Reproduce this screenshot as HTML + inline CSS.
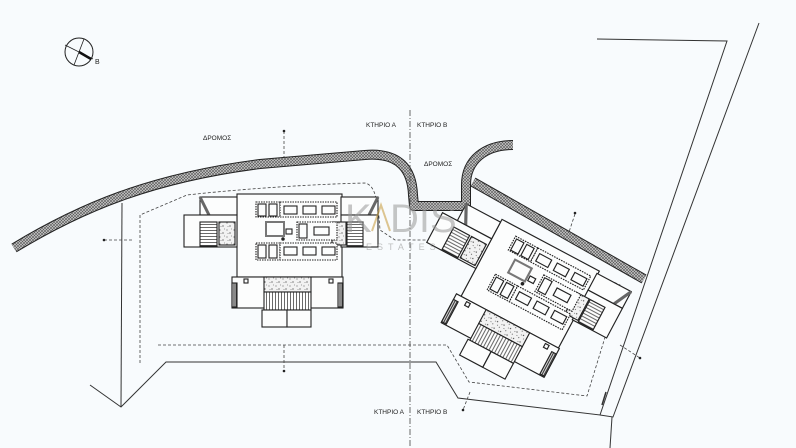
<!DOCTYPE html>
<html><head><meta charset="utf-8"><style>
html,body{margin:0;padding:0;background:#f8fbfd;}
svg{display:block;}
text{font-family:"Liberation Sans",sans-serif;fill:#222;}
</style></head><body>
<svg width="796" height="448" viewBox="0 0 796 448" xmlns="http://www.w3.org/2000/svg">
<defs>
<pattern id="hatch" width="3" height="3" patternUnits="userSpaceOnUse">
<rect width="3" height="3" fill="#c8c8c8"/>
<path d="M0,0L3,3M3,0L0,3" stroke="#555" stroke-width="0.6"/>
</pattern>
<pattern id="speck" width="7" height="7" patternUnits="userSpaceOnUse">
<rect width="7" height="7" fill="#f2f2f2"/>
<circle cx="1" cy="2" r="0.5" fill="#333"/><circle cx="4" cy="5" r="0.6" fill="#333"/>
<circle cx="5.5" cy="1" r="0.4" fill="#333"/><circle cx="2" cy="5.5" r="0.4" fill="#333"/>
</pattern>
<pattern id="hstripe" width="4" height="3" patternUnits="userSpaceOnUse">
<rect width="4" height="3" fill="#fff"/><path d="M0,1.5H4" stroke="#444" stroke-width="0.8"/>
</pattern>
<pattern id="vstripe" width="3" height="4" patternUnits="userSpaceOnUse">
<rect width="3" height="4" fill="#fff"/><path d="M1.5,0V4" stroke="#444" stroke-width="0.8"/>
</pattern>
<pattern id="vdense" width="2" height="4" patternUnits="userSpaceOnUse">
<rect width="2" height="4" fill="#ddd"/><path d="M1,0V4" stroke="#222" stroke-width="0.9"/>
</pattern>
<g id="bldg" stroke="#222" stroke-width="1.1" fill="#fcfdfd">
<rect x="-52" y="-41" width="105" height="83"/>
<rect x="-89" y="-38" width="37" height="18"/>
<path d="M-89,-38 L-80,-20" stroke-width="3" stroke="#666"/>
<rect x="52" y="-38" width="37" height="18"/>
<path d="M89,-38 L80,-20" stroke-width="3" stroke="#666"/>
<rect x="-105" y="-20" width="53" height="32"/>
<rect x="-89" y="-13" width="17" height="24" fill="url(#hstripe)"/>
<rect x="-70" y="-13" width="16" height="23" fill="url(#speck)"/>
<rect x="52" y="-20" width="37" height="32"/>
<rect x="43" y="-13" width="14" height="23" fill="url(#speck)"/>
<rect x="58" y="-13" width="16" height="24" fill="url(#hstripe)"/>
<rect x="-57" y="42" width="111" height="31"/>
<rect x="-25" y="42" width="47" height="15" fill="url(#speck)"/>
<rect x="-25" y="57" width="47" height="18" fill="url(#vstripe)"/>
<rect x="-27" y="75" width="25" height="17"/><rect x="-2" y="75" width="24" height="17"/>
<rect x="-57" y="48" width="5" height="24" fill="url(#vdense)"/>
<rect x="49" y="48" width="5" height="24" fill="url(#vdense)"/>
<rect x="-45" y="44" width="4" height="4"/><rect x="40" y="44" width="4" height="4"/>
<g stroke-dasharray="1.5,1">
<rect x="-33" y="-33" width="24" height="15"/><rect x="-9" y="-33" width="57" height="15"/>
<rect x="-33" y="8" width="24" height="17"/><rect x="-9" y="8" width="57" height="17"/>
<rect x="8" y="-13" width="40" height="18"/>
</g>
<rect x="-31" y="-31" width="8" height="12"/><rect x="-20" y="-31" width="8" height="12"/>
<rect x="-5" y="-29" width="13" height="8"/><rect x="14" y="-29" width="13" height="8"/><rect x="33" y="-29" width="13" height="8"/>
<rect x="-31" y="10" width="8" height="13"/><rect x="-20" y="10" width="8" height="13"/>
<rect x="-5" y="12" width="13" height="8"/><rect x="14" y="12" width="13" height="8"/><rect x="33" y="12" width="13" height="8"/>
<rect x="10" y="-11" width="8" height="14"/><rect x="25" y="-8" width="15" height="8"/>
<rect x="-23" y="-13" width="18" height="14" stroke="#777" stroke-width="2"/>
<rect x="-3" y="-6" width="6" height="5"/>
<circle cx="-6" cy="4" r="1.2" fill="#222"/>
</g>
</defs>

<circle cx="79" cy="52" r="14" fill="none" stroke="#222" stroke-width="1"/>
<path d="M65,45 L93,59 M74,65 L84,39" stroke="#222" stroke-width="0.8"/>
<path d="M79,52 L91,59" stroke="#111" stroke-width="2.5"/>
<text x="95" y="64" font-size="7">B</text>

<g fill="none" stroke-linejoin="round">
<path d="M14,248 C80,208 150,178 260,164 L365,155 C400,152 412,170 413,195 L414,206 L466,206 L466,185 C466,160 485,145 513,145" stroke="#222" stroke-width="10"/>
<path d="M14,248 C80,208 150,178 260,164 L365,155 C400,152 412,170 413,195 L414,206 L466,206 L466,185 C466,160 485,145 513,145" stroke="url(#hatch)" stroke-width="8"/>
<path d="M473,182 L644,279" stroke="#222" stroke-width="10"/>
<path d="M473,182 L644,279" stroke="url(#hatch)" stroke-width="8"/>
</g>

<g fill="none" stroke="#333" stroke-width="1">
<path d="M90,385 L121,407 L166,362 L436,362 L458,398 L600,415 L727,41 L597,39"/>
<path d="M122,203 L121,407"/>
<path d="M759,23 L613,417 L600,415"/>
<path d="M612,417 L610,448"/>
<path d="M606,392 L602,405" stroke-width="1.5"/>
</g>
<g fill="none" stroke="#444" stroke-width="0.8" stroke-dasharray="3,2">
<path d="M140,363 L140,215 L187,195 C250,188 320,184 365,183 C375,185 378,200 380,230 L395,240 L446,240"/>
<path d="M158,345 L447,345 L469,382 L587,396 L618,295 L620,285 L480,222"/>
<path d="M104,240 L132,240"/>
<path d="M284,131 L284,157"/>
<path d="M284,345 L284,371"/>
<path d="M575,214 L569,232"/>
<path d="M620,345 L640,358"/>
<path d="M470,392 L463,410"/>
</g>
<g fill="#222"><circle cx="284" cy="131" r="1.3"/><circle cx="284" cy="371" r="1.3"/><circle cx="104" cy="240" r="1.3"/><circle cx="575" cy="213" r="1.3"/><circle cx="640" cy="358" r="1.3"/><circle cx="463" cy="410" r="1.3"/></g>

<path d="M410,110 L410,448" stroke="#444" stroke-width="0.8" stroke-dasharray="6,2,1,2" fill="none"/>

<use href="#bldg" transform="translate(289,235)"/>
<use href="#bldg" transform="translate(530,283) rotate(28) scale(1.05)"/>

<g font-size="6.5">
<text x="366" y="127">ΚΤΗΡΙΟ Α</text><text x="417" y="127">ΚΤΗΡΙΟ Β</text>
<text x="203" y="140">ΔΡΟΜΟΣ</text><text x="424" y="166">ΔΡΟΜΟΣ</text>
<text x="374" y="414">ΚΤΗΡΙΟ Α</text><text x="417" y="414">ΚΤΗΡΙΟ Β</text>
</g>
<text x="345" y="232" font-size="40" style="fill:#999;opacity:0.55">K</text>
<text x="390" y="232" font-size="40" style="fill:#999;opacity:0.55">DIS</text>
<path d="M372,231 L381,205 L390,231" fill="none" stroke="#c9a24a" stroke-width="2" opacity="0.6"/>
<text x="366" y="250" font-size="9" letter-spacing="5" style="fill:#999;opacity:0.6">ESTATES</text>
</svg>
</body></html>
